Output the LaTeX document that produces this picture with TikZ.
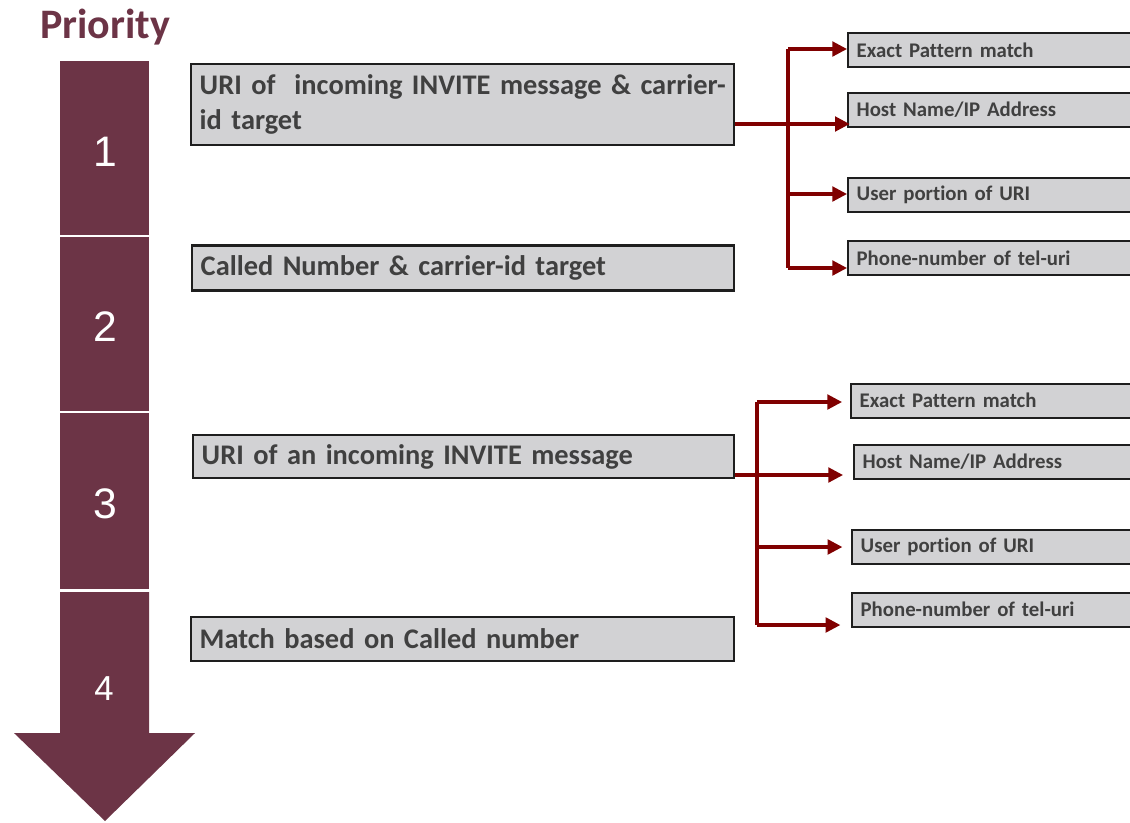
\documentclass[tikz,border=0pt]{standalone}
\usepackage{fontspec}
\setmainfont{Carlito}[Ligatures=NoCommon]
\newfontfamily\digitfont{Liberation Sans}
\usetikzlibrary{arrows.meta}
\definecolor{maroon}{HTML}{6C3446}
\definecolor{arrred}{HTML}{800000}
\definecolor{txtgray}{HTML}{404040}
\definecolor{boxfill}{HTML}{D2D2D4}
\definecolor{boxline}{HTML}{1E1E1E}
\tikzset{
  barseg/.style={fill=maroon, draw=none},
  num/.style={text=white, font=\digitfont\fontsize{32}{36}\selectfont},
  mainbox/.style={draw=boxline, line width=1.6pt, fill=boxfill, anchor=west,
    align=left, inner xsep=6.5pt, inner ysep=0pt, text=txtgray,
    font=\bfseries\fontsize{21.3}{24.75}\selectfont},
  smallbox/.style={draw=boxline, line width=1.5pt, fill=boxfill, anchor=west,
    align=left, inner xsep=6.5pt, inner ysep=0pt, text width=210pt,
    minimum height=25.5pt, text=txtgray, font=\bfseries\fontsize{15.6}{18}\selectfont},
  conn/.style={draw=arrred, line width=2.3pt},
  arr/.style={conn, -{Triangle[length=11pt,width=11pt]}},
}
\begin{document}
\begin{tikzpicture}[x=0.75pt,y=-0.75pt]
\useasboundingbox (0,0) rectangle (1130,822);
\begin{scope}
\clip (0,0) rectangle (1130,822);
% Priority title
\node[text=maroon, font=\bfseries\fontsize{31.5}{36}\selectfont] (title) at (105,27) {Priority};
% priority bar
\path[barseg] (60,61) rectangle (149,235);
\path[barseg] (60,237) rectangle (149,411);
\path[barseg] (60,413) rectangle (149,589);
\path[barseg] (60,592) -- (149,592) -- (149,733) -- (195,733) -- (105,821) -- (14,733) -- (60,733) -- cycle;
\node[num] (n1) at (105,152) {1};
\node[num] (n2) at (105,327) {2};
\node[num] (n3) at (105,504) {3};
\node[num, font=\digitfont\fontsize{26}{30}\selectfont] (n4) at (104,689) {4};
% main boxes
\node[mainbox, text width=394pt, minimum height=60.75pt,
      font=\bfseries\fontsize{21.3}{26.5}\selectfont] (b1) at (190,104.5)
  {\mbox{URI of \ incoming INVITE message \& carrier-}\\id target};
\node[mainbox, text width=393.5pt, minimum height=33.75pt] (b2) at (191,268)
  {Called Number \& carrier-id target};
\node[mainbox, text width=393pt, minimum height=32.25pt] (b3) at (192,456.5)
  {URI of an incoming INVITE message};
\node[mainbox, text width=394pt, minimum height=33pt] (b4) at (190,639)
  {Match based on Called number};
% small boxes, top group
\node[smallbox] (e1) at (847,50) {Exact Pattern match};
\node[smallbox] (h1) at (847,110) {Host Name/IP Address};
\node[smallbox] (u1) at (847,195) {User portion of URI};
\node[smallbox] (p1) at (847,258) {Phone-number of tel-uri};
% small boxes, bottom group
\node[smallbox] (e2) at (850,400.5) {Exact Pattern match};
\node[smallbox] (h2) at (853,461.5) {Host Name/IP Address};
\node[smallbox] (u2) at (851,547) {User portion of URI};
\node[smallbox] (p2) at (851,609.5) {Phone-number of tel-uri};
% connectors, top group
\coordinate (ta) at (788,49);
\coordinate (tb) at (788,124);
\coordinate (tc) at (788,194);
\coordinate (td) at (788,268);
\draw[conn] (ta) -- (td);
\draw[conn, line width=2.8pt] (b1.east |- tb) -- (tb);
\draw[arr] (ta) -- (e1.west |- ta);
\draw[arr] (tb) -- ([xshift=2pt]h1.west |- tb);
\draw[arr] (tc) -- (u1.west |- tc);
\draw[arr] (td) -- (p1.west |- td);
% connectors, bottom group
\coordinate (ba) at (757,402);
\coordinate (bb) at (757,475);
\coordinate (bc) at (757,547);
\coordinate (bd) at (757,625);
\draw[conn] (ba) -- (bd);
\draw[conn, line width=2.8pt] (b3.east |- bb) -- (bb);
\draw[arr, shorten >=6pt] (ba) -- (e2.west |- ba);
\draw[arr, shorten >=7.5pt] (bb) -- (h2.west |- bb);
\draw[arr, shorten >=6.5pt] (bc) -- (u2.west |- bc);
\draw[arr, shorten >=8pt] (bd) -- (p2.west |- bd);
\end{scope}
\end{tikzpicture}
\end{document}
